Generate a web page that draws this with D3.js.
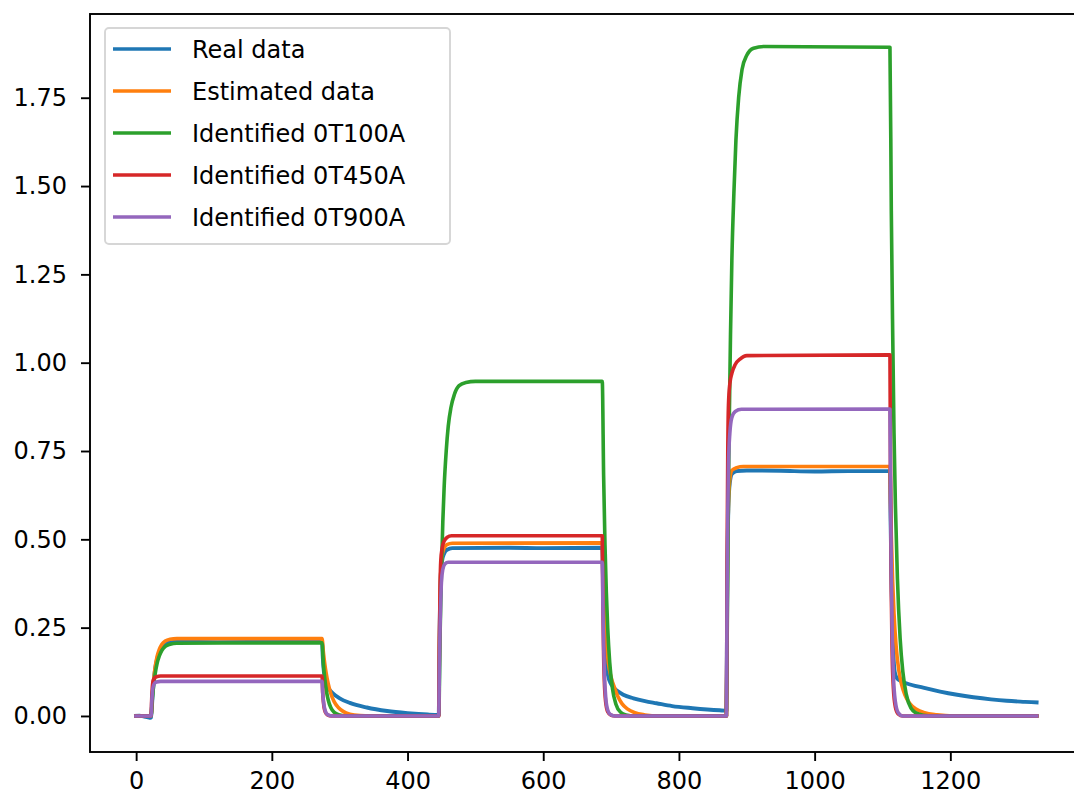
<!DOCTYPE html>
<html>
<head>
<meta charset="utf-8">
<script src="https://cdn.jsdelivr.net/npm/d3@7/dist/d3.min.js"></script>
<style>
body { margin: 0; background: #fff; }
text { font-family: "DejaVu Sans", sans-serif; }
</style>
</head>
<body>
<div id="wrapper"></div>
<script>
const xTicks = [0, 200, 400, 600, 800, 1000, 1200];
const yTicks = [0, 0.25, 0.5, 0.75, 1.0, 1.25, 1.5, 1.75];
const seriesNames = ["Real data", "Estimated data", "Identified 0T100A", "Identified 0T450A", "Identified 0T900A"];
const seriesColors = ["#1f77b4", "#ff7f0e", "#2ca02c", "#d62728", "#9467bd"];

// [time, value]
const realData = [
    [-3,0],[5,0.001],[12,-0.002],[18,-0.004],[21,-0.005],[22,-0.004],[24,0.05],[26,0.1],[28,0.133],[31,0.162],[34,0.18],[38,0.195],[43,0.203],[50,0.208],[60,0.21],[120,0.209],[200,0.21],[274,0.21],
    [275,0.17],[276,0.14],[278,0.11],[280,0.093],[283,0.08],[290,0.064],[300,0.05],[315,0.037],[340,0.024],[370,0.014],[400,0.008],[430,0.004],[446,0.003],
    [447,0.2],[448,0.33],[449,0.4],[451,0.44],[454,0.46],[458,0.47],[466,0.475],[550,0.476],[600,0.475],[687,0.476],
    [688,0.4],[689,0.32],[690,0.26],[691,0.21],[693,0.15],[695,0.12],[700,0.09],[710,0.07],[718,0.06],[733,0.05],[750,0.042],[767,0.036],[790,0.028],[820,0.022],[860,0.016],[870,0.015],
    [871,0.3],[872,0.5],[873,0.6],[875,0.66],[878,0.685],[885,0.693],[900,0.695],[950,0.694],[1000,0.692],[1050,0.693],[1111,0.693],
    [1112,0.55],[1113,0.42],[1114,0.32],[1115,0.24],[1116,0.18],[1118,0.125],[1121,0.108],[1128,0.098],[1136,0.092],[1160,0.08],[1185,0.069],[1210,0.06],[1234,0.053],[1260,0.047],[1283,0.043],[1310,0.04],[1330,0.038]
];
const estimatedData = [
    [-3,0],[22,0],[24,0.062],[26,0.105],[28,0.138],[31,0.169],[34,0.188],[38,0.203],[43,0.212],[50,0.217],[60,0.219],[274,0.219],
    [276,0.18],[278,0.148],[280,0.122],[283,0.092],[287,0.063],[292,0.04],[298,0.024],[305,0.013],[315,0.005],[330,0.001],[345,0],[446,0],
    [447,0.2],[448,0.34],[449,0.41],[451,0.455],[454,0.475],[458,0.485],[466,0.489],[687,0.49],
    [688,0.42],[689,0.36],[691,0.28],[693,0.215],[696,0.15],[700,0.11],[705,0.08],[710,0.055],[716,0.035],[724,0.02],[735,0.009],[750,0.003],[770,0],[870,0],
    [871,0.3],[872,0.5],[873,0.6],[875,0.67],[878,0.695],[885,0.703],[895,0.706],[1111,0.706],
    [1112,0.6],[1113,0.51],[1115,0.38],[1117,0.29],[1120,0.2],[1124,0.13],[1128,0.09],[1133,0.06],[1140,0.036],[1150,0.019],[1162,0.009],[1180,0.003],[1205,0],[1330,0]
];
const identified100 = [
    [-3,0],[22,0],[24,0.051],[26,0.09],[28,0.119],[31,0.15],[34,0.169],[38,0.186],[43,0.197],[50,0.203],[60,0.206],[274,0.207],
    [276,0.148],[278,0.106],[280,0.076],[283,0.046],[287,0.023],[292,0.01],[300,0.003],[310,0],[446,0],
    [448,0.235],[450,0.41],[452,0.55],[454,0.65],[457,0.75],[460,0.82],[464,0.873],[469,0.91],[476,0.935],[486,0.944],[500,0.947],[687,0.947],
    [689,0.68],[691,0.485],[693,0.35],[695,0.25],[698,0.151],[702,0.078],[707,0.034],[714,0.0105],[722,0.003],[735,0],[870,0],
    [872,0.46],[874,0.81],[876,1.08],[878,1.29],[881,1.48],[884,1.63],[888,1.75],[893,1.83],[900,1.87],[910,1.89],[925,1.895],[1111,1.893],
    [1113,1.43],[1115,1.09],[1117,0.8],[1119,0.6],[1122,0.39],[1126,0.22],[1130,0.125],[1135,0.062],[1142,0.022],[1150,0.008],[1160,0.002],[1175,0],[1330,0]
];
const identified450 = [
    [-3,0],[22,0],[23,0.05],[24,0.085],[25,0.1],[27,0.107],[30,0.111],[36,0.113],[274,0.113],
    [275,0.065],[276,0.04],[277,0.024],[279,0.01],[282,0.003],[288,0],[446,0],
    [447,0.22],[448,0.37],[449,0.44],[451,0.475],[454,0.495],[458,0.505],[465,0.51],[687,0.51],
    [688,0.3],[689,0.17],[690,0.1],[692,0.04],[695,0.012],[700,0.002],[706,0],[870,0],
    [871,0.45],[872,0.75],[873,0.88],[875,0.94],[878,0.97],[883,0.995],[890,1.01],[900,1.02],[1111,1.022],
    [1112,0.6],[1113,0.35],[1114,0.2],[1116,0.08],[1119,0.025],[1123,0.006],[1130,0],[1330,0]
];
const identified900 = [
    [-3,0],[22,0],[23,0.04],[24,0.068],[25,0.082],[27,0.092],[30,0.096],[36,0.098],[274,0.098],
    [275,0.065],[276,0.043],[277,0.029],[279,0.013],[282,0.004],[288,0],[446,0],
    [447,0.15],[448,0.26],[449,0.33],[450,0.38],[452,0.415],[455,0.43],[460,0.435],[687,0.435],
    [688,0.3],[689,0.2],[690,0.13],[692,0.055],[695,0.017],[699,0.004],[705,0],[870,0],
    [871,0.35],[872,0.58],[873,0.71],[875,0.8],[878,0.845],[883,0.862],[892,0.868],[1111,0.869],
    [1112,0.6],[1113,0.4],[1114,0.27],[1116,0.12],[1119,0.04],[1123,0.01],[1130,0],[1330,0]
];

function build() {
    const allSeries = [realData, estimatedData, identified100, identified450, identified900];

    var dimension = {
        width: 1074,
        height: 796,
        margin: { top: 14, right: -10, bottom: 44, left: 90 }
    }
    dimension.boundedWidth = dimension.width - dimension.margin.left - dimension.margin.right;
    dimension.boundedHeight = dimension.height - dimension.margin.top - dimension.margin.bottom;

    const wrapper = d3.select("#wrapper")
        .append("svg")
        .attr("width", dimension.width)
        .attr("height", dimension.height);

    const bounds = wrapper.append("g")
        .attr("transform", `translate(${dimension.margin.left},${dimension.margin.top})`);

    const x = d3.scaleLinear().domain([-68, 1397]).range([0, dimension.boundedWidth]);
    const y = d3.scaleLinear().domain([-0.102, 1.987]).range([dimension.boundedHeight, 0]);

    const line = d3.line()
        .x(d => x(d[0]))
        .y(d => y(d[1]))
        .curve(d3.curveMonotoneX);

    bounds.selectAll("path.series")
        .data(allSeries)
        .enter()
        .append("path")
        .attr("class", "series")
        .attr("d", d => line(d))
        .attr("fill", "none")
        .attr("stroke", (d, i) => seriesColors[i])
        .attr("stroke-width", (d, i) => i == 0 ? 3.9 : 3.6)
        .attr("stroke-linejoin", "round");

    // axes
    const yAxis = bounds.append("g")
        .call(d3.axisLeft(y).tickValues(yTicks).tickFormat(d3.format(".2f")).tickSize(9).tickPadding(14));
    const xAxis = bounds.append("g")
        .attr("transform", `translate(0,${dimension.boundedHeight})`)
        .call(d3.axisBottom(x).tickValues(xTicks).tickFormat(d3.format("d")).tickSize(9).tickPadding(11));

    [xAxis, yAxis].forEach(a => {
        a.select(".domain").remove();
        a.selectAll(".tick line").attr("stroke", "#000").attr("stroke-width", 1.9);
        a.selectAll(".tick text")
            .attr("fill", "#000")
            .style("font-size", "24px")
            .style("font-family", "'DejaVu Sans', sans-serif");
    });

    bounds.append("rect")
        .attr("width", dimension.boundedWidth)
        .attr("height", dimension.boundedHeight)
        .attr("fill", "none")
        .attr("stroke", "#000")
        .attr("stroke-width", 1.9);

    // legend
    const legend = wrapper.append("g")
        .attr("transform", "translate(105,28)");
    legend.append("rect")
        .attr("width", 345)
        .attr("height", 216)
        .attr("rx", 4)
        .attr("fill", "#fff")
        .attr("fill-opacity", 0.8)
        .attr("stroke", "#d6d6d6")
        .attr("stroke-width", 1.9);

    const rows = legend.selectAll("g.row")
        .data(seriesNames)
        .enter()
        .append("g")
        .attr("class", "row")
        .attr("transform", (d, i) => `translate(0,${21 + i * 42})`);
    rows.append("line")
        .attr("x1", 8)
        .attr("x2", 66)
        .attr("stroke", (d, i) => seriesColors[i])
        .attr("stroke-width", 3.6);
    rows.append("text")
        .attr("x", 87)
        .attr("dy", "0.36em")
        .style("font-size", "24px")
        .attr("fill", "#000")
        .text(d => d);
}

build();
</script>
</body>
</html>
